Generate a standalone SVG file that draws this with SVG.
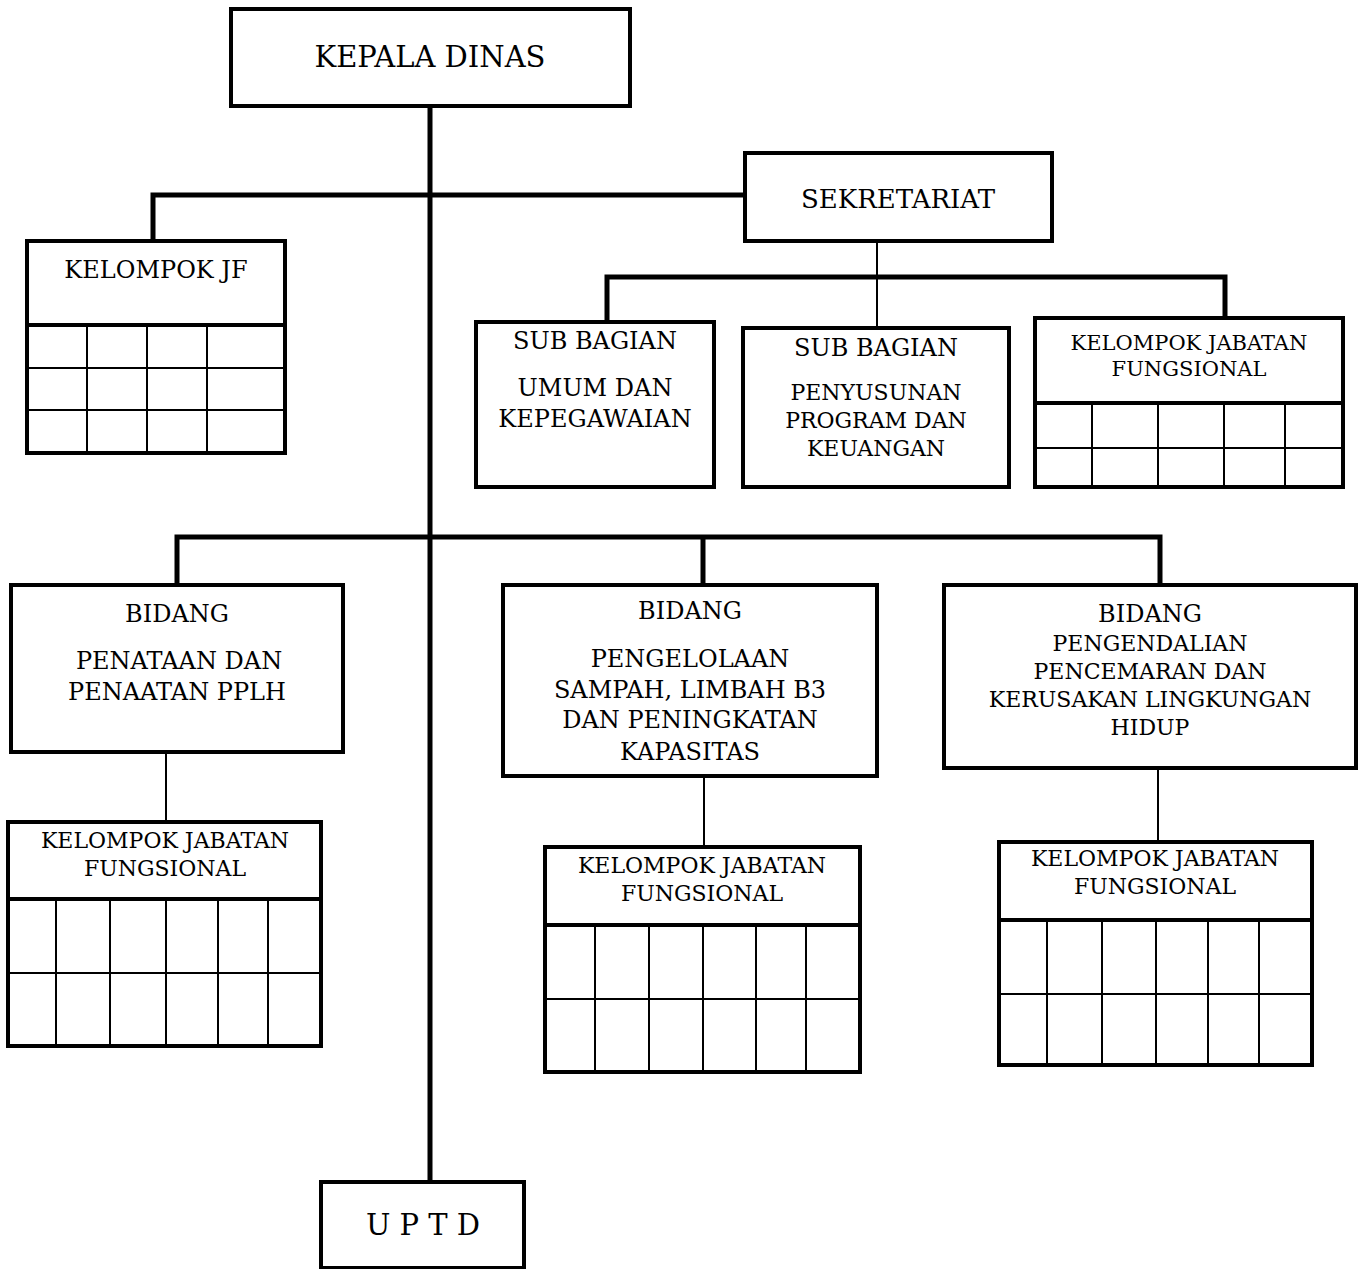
<svg xmlns="http://www.w3.org/2000/svg" width="1362" height="1269" viewBox="0 0 1362 1269">
<style>
.box{fill:#fff;stroke:#000;stroke-width:4}
.hdr{stroke:#000;stroke-width:4}
.grid{stroke:#000;stroke-width:2;fill:none}
.thick{stroke:#000;stroke-width:5;fill:none}
.thin{stroke:#000;stroke-width:2;fill:none}
text{font-family:"DejaVu Serif","Liberation Serif",serif;fill:#000;text-anchor:middle}
.t29{font-size:29px}
.t26{font-size:26px}
.t24{font-size:24px}
.t22{font-size:22px}
.t21{font-size:21px}
</style>
<rect width="1362" height="1269" fill="#fff"/>
<g id="connectors">
<path class="thick" d="M430 106V1182"/>
<path class="thick" d="M153 241V195H745"/>
<path class="thin" d="M877 241V328"/>
<path class="thick" d="M607 322V277H1225V318"/>
<path class="thick" d="M177 585V537H1160V585"/>
<path class="thick" d="M703 537V585"/>
<path class="thin" d="M166 752V822"/>
<path class="thin" d="M704 776V847"/>
<path class="thin" d="M1158 768V842"/>
</g>
<g id="kepala-dinas">
<rect class="box" x="231" y="9" width="399" height="97"/>
<text class="t29" x="430" y="67">KEPALA DINAS</text>
</g>
<g id="sekretariat">
<rect class="box" x="745" y="153" width="307" height="88"/>
<text class="t26" x="898" y="208">SEKRETARIAT</text>
</g>
<g id="kelompok-jf">
<rect class="box" x="27" y="241" width="258" height="212"/>
<line class="hdr" x1="27" y1="325" x2="285" y2="325"/>
<path class="grid" d="M27 368H285M27 410H285M87 325V453M147 325V453M207 325V453"/>
<text class="t24" x="156" y="278">KELOMPOK JF</text>
</g>
<g id="subbag-umum">
<rect class="box" x="476" y="322" width="238" height="165"/>
<text class="t24" x="595" y="349">SUB BAGIAN</text>
<text class="t24" x="595" y="396">UMUM DAN</text>
<text class="t24" x="595" y="427">KEPEGAWAIAN</text>
</g>
<g id="subbag-program">
<rect class="box" x="743" y="328" width="266" height="159"/>
<text class="t24" x="876" y="356">SUB BAGIAN</text>
<text class="t22" x="876" y="400">PENYUSUNAN</text>
<text class="t22" x="876" y="428">PROGRAM DAN</text>
<text class="t22" x="876" y="456">KEUANGAN</text>
</g>
<g id="kjf-sekretariat">
<rect class="box" x="1035" y="318" width="308" height="169"/>
<line class="hdr" x1="1035" y1="403" x2="1343" y2="403"/>
<path class="grid" d="M1035 448H1343M1092 403V487M1158 403V487M1224 403V487M1285 403V487"/>
<text class="t21" x="1189" y="350">KELOMPOK JABATAN</text>
<text class="t21" x="1189" y="376">FUNGSIONAL</text>
</g>
<g id="bidang-penataan">
<rect class="box" x="11" y="585" width="332" height="167"/>
<text class="t24" x="177" y="622">BIDANG</text>
<text class="t24" x="179" y="669">PENATAAN DAN</text>
<text class="t24" x="177" y="700">PENAATAN PPLH</text>
</g>
<g id="kjf-penataan">
<rect class="box" x="8" y="822" width="313" height="224"/>
<line class="hdr" x1="8" y1="899" x2="321" y2="899"/>
<path class="grid" d="M8 973H321M56 899V1046M110 899V1046M166 899V1046M218 899V1046M268 899V1046"/>
<text class="t22" x="165" y="848">KELOMPOK JABATAN</text>
<text class="t22" x="165" y="876">FUNGSIONAL</text>
</g>
<g id="bidang-pengelolaan">
<rect class="box" x="503" y="585" width="374" height="191"/>
<text class="t24" x="690" y="619">BIDANG</text>
<text class="t24" x="690" y="667">PENGELOLAAN</text>
<text class="t24" x="690" y="698">SAMPAH, LIMBAH B3</text>
<text class="t24" x="690" y="728">DAN PENINGKATAN</text>
<text class="t24" x="690" y="760">KAPASITAS</text>
</g>
<g id="kjf-pengelolaan">
<rect class="box" x="545" y="847" width="315" height="225"/>
<line class="hdr" x1="545" y1="925" x2="860" y2="925"/>
<path class="grid" d="M545 999H860M595 925V1072M649 925V1072M703 925V1072M756 925V1072M806 925V1072"/>
<text class="t22" x="702" y="873">KELOMPOK JABATAN</text>
<text class="t22" x="702" y="901">FUNGSIONAL</text>
</g>
<g id="bidang-pengendalian">
<rect class="box" x="944" y="585" width="412" height="183"/>
<text class="t24" x="1150" y="622">BIDANG</text>
<text class="t22" x="1150" y="651">PENGENDALIAN</text>
<text class="t22" x="1150" y="679">PENCEMARAN DAN</text>
<text class="t22" x="1150" y="707">KERUSAKAN LINGKUNGAN</text>
<text class="t22" x="1150" y="735">HIDUP</text>
</g>
<g id="kjf-pengendalian">
<rect class="box" x="999" y="842" width="313" height="223"/>
<line class="hdr" x1="999" y1="920" x2="1312" y2="920"/>
<path class="grid" d="M999 994H1312M1047 920V1065M1102 920V1065M1156 920V1065M1208 920V1065M1259 920V1065"/>
<text class="t22" x="1155" y="866">KELOMPOK JABATAN</text>
<text class="t22" x="1155" y="894">FUNGSIONAL</text>
</g>
<g id="uptd">
<rect class="box" x="321" y="1182" width="203" height="86"/>
<text class="t29" x="423" y="1235">U P T D</text>
</g>
</svg>
